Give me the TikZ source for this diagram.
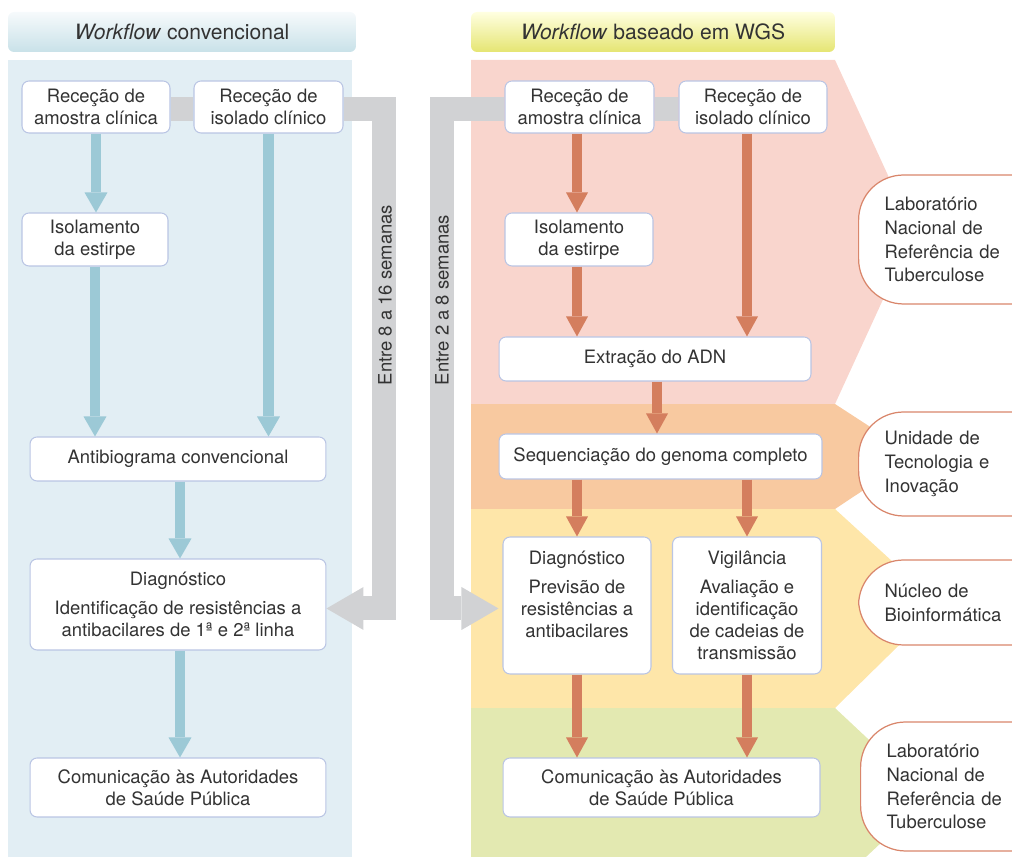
\documentclass[tikz,border=0pt]{standalone}
\usepackage{fontspec}
\setmainfont{TeX Gyre Heros}
\usetikzlibrary{arrows.meta,positioning,calc}
\definecolor{painelazul}{HTML}{E2EEF4}
\definecolor{rosa}{HTML}{F9D5CD}
\definecolor{laranja}{HTML}{F8C9A0}
\definecolor{amarelo}{HTML}{FEE6A9}
\definecolor{verde}{HTML}{E3E9B1}
\definecolor{cinza}{HTML}{D1D2D4}
\definecolor{azulseta}{HTML}{9CC9D6}
\definecolor{vermseta}{HTML}{D47E5E}
\definecolor{bordacaixa}{HTML}{BAC5E4}
\definecolor{bordaoval}{HTML}{D9866B}
\definecolor{texto}{HTML}{333333}
\pgfdeclarelayer{bg}
\pgfsetlayers{bg,main}
\tikzset{caixa/.style={draw=bordacaixa, fill=white, rounded corners=0.14cm, line width=0.6pt, align=center, inner sep=0pt, font=\fontsize{10.5}{12.5}\selectfont, text=texto},
  oval/.style={draw=bordaoval, fill=white, rounded corners=0.9cm, line width=0.7pt, align=left, anchor=west, minimum width=4cm, text width=2.96cm, inner xsep=0.52cm, font=\fontsize{10.5}{13.6}\selectfont, text=texto},
  cabec/.style={rounded corners=0.12cm, minimum height=0.8cm, inner sep=0pt, font=\fontsize{12}{14}\selectfont, text=texto},
  setaazul/.style={draw=azulseta, line width=0.22cm, -{Triangle[width=0.46cm,length=0.4cm,line width=0pt]}},
  setaverm/.style={draw=vermseta, line width=0.21cm, -{Triangle[width=0.44cm,length=0.4cm,line width=0pt]}},
  barra/.style={draw=cinza, line width=0.48cm},
  setacinza/.style={barra, -{Triangle[width=0.86cm,length=0.74cm,line width=0pt]}},
  semanas/.style={rotate=90, font=\fontsize{10.5}{12.5}\selectfont, text=texto}}

\begin{document}
\begin{tikzpicture}[x=0.02cm, y=-0.02cm]
    \path[use as bounding box] (0,0) rectangle (1012,857);

    \begin{pgfonlayer}{bg} % background layer
    \fill[painelazul] (8,60) rectangle (352,857);
    \fill[verde] (471,708) -- (835,708) -- (930,797) -- (835,886) -- (471,886) -- cycle;
    \fill[amarelo] (471,509) -- (835,509) -- (940,605) -- (835,708) -- (471,708) -- cycle;
    \fill[laranja] (471,404) -- (835,404) -- (915,456) -- (835,509) -- (471,509) -- cycle;
    \fill[rosa] (471,60) -- (835,60) -- (914,232) -- (835,404) -- (471,404) -- cycle;
    \end{pgfonlayer}

    \node [cabec, minimum width=6.96cm, top color=white!70!painelazul, bottom color=azulseta!55!white] (cabconv) at (182,32) {\textit{Workflow} convencional};
    \node [cabec, minimum width=7.28cm, top color=yellow!12!white, bottom color=yellow!55!olive!45!white] (cabwgs) at (653,32) {\textit{Workflow} baseado em WGS};

    % workflow convencional
    \node [caixa, minimum width=2.96cm, minimum height=1.04cm] (l1) at (96,107) {Receção de\\amostra clínica};
    \node [caixa, minimum width=2.98cm, minimum height=1.04cm] (l2) at (268.5,107) {Receção de\\isolado clínico};
    \node [caixa, minimum width=2.92cm, minimum height=1.06cm] (l3) at (95,239.5) {Isolamento\\da estirpe};
    \node [caixa, minimum width=5.92cm, minimum height=0.88cm] (l4) at (178,459) {Antibiograma convencional};
    \node [caixa, minimum width=5.92cm, minimum height=1.82cm] (l5) at (178,604.5) {Diagnóstico\\[4pt]Identificação de resistências a\\antibacilares de 1ª e 2ª linha};
    \node [caixa, minimum width=5.92cm, minimum height=1.18cm] (l6) at (178,787.5) {Comunicação às Autoridades\\de Saúde Pública};

    % workflow WGS
    \node [caixa, minimum width=2.98cm, minimum height=1.04cm] (r1) at (579.5,107) {Receção de\\amostra clínica};
    \node [caixa, minimum width=2.96cm, minimum height=1.04cm] (r2) at (753,107) {Receção de\\isolado clínico};
    \node [caixa, minimum width=2.96cm, minimum height=1.06cm] (r3) at (579,239.5) {Isolamento\\da estirpe};
    \node [caixa, minimum width=6.24cm, minimum height=0.88cm] (r4) at (655,359) {Extração do ADN};
    \node [caixa, minimum width=6.46cm, minimum height=0.9cm] (r5) at (660.5,456.5) {Sequenciação do genoma completo};
    \node [caixa, minimum width=2.96cm, minimum height=2.74cm] (r6) at (577,605.5) {Diagnóstico\\[4pt]Previsão de\\resistências a\\antibacilares\\\phantom{x}};
    \node [caixa, minimum width=2.98cm, minimum height=2.74cm] (r7) at (747,605.5) {Vigilância\\[4pt]Avaliação e\\identificação\\de cadeias de\\transmissão};
    \node [caixa, minimum width=6.34cm, minimum height=1.18cm] (r8) at (661.5,787.5) {Comunicação às Autoridades\\de Saúde Pública};

    % unidades
    \node [oval, minimum height=2.58cm] (lab1) at (858,239.5) {Laboratório\\Nacional de\\Referência de\\Tuberculose};
    \node [oval, minimum height=2.08cm] (uti) at (858,464) {Unidade de\\Tecnologia e\\Inovação};
    \node [oval, minimum height=1.7cm] (nucleo) at (858,602.5) {Núcleo de\\Bioinformática};
    \node [oval, minimum height=2.58cm] (lab2) at (860,786.5) {Laboratório\\Nacional de\\Referência de\\Tuberculose};

    % tempos
    \coordinate (g1) at (384,109);
    \coordinate (g2) at (384,608.5);
    \coordinate (g3) at (442,109);
    \coordinate (g4) at (442,608.5);
    \begin{pgfonlayer}{bg}
    \draw[barra] (l1.east |- g1) -- (l2.west |- g1);
    \draw[setacinza] (l2.east |- g1) -- (g1) -- (g2) -- (l5.east |- g2);
    \draw[barra] (r1.east |- g3) -- (r2.west |- g3);
    \draw[setacinza, shorten >=0.08cm] (r1.west |- g3) -- (g3) -- (g4) -- (r6.west |- g4);
    \end{pgfonlayer}
    \node [semanas] (t816) at (385,295) {Entre 8 a 16 semanas};
    \node [semanas] (t28) at (442,300) {Entre 2 a 8 semanas};

    \draw[setaazul] (l1.south) -- (l1.south |- l3.north);
    \draw[setaazul] (l3.south) -- (l3.south |- l4.north);
    \draw[setaazul] (l2.south) -- (l2.south |- l4.north);
    \draw[setaazul] ([xshift=0.04cm]l4.south) -- ([xshift=0.04cm]l5.north);
    \draw[setaazul] ([xshift=0.04cm]l5.south) -- ([xshift=0.04cm]l6.north);

    \draw[setaverm] (r6 |- r1.south) -- (r6 |- r3.north);
    \draw[setaverm] (r6 |- r3.south) -- (r6 |- r4.north);
    \draw[setaverm] (r7 |- r2.south) -- (r7 |- r4.north);
    \draw[setaverm] ([xshift=0.04cm]r4.south) -- ([xshift=0.04cm]r4.south |- r5.north);
    \draw[setaverm] (r6 |- r5.south) -- (r6.north);
    \draw[setaverm] (r7 |- r5.south) -- (r7.north);
    \draw[setaverm] (r6.south) -- (r6.south |- r8.north);
    \draw[setaverm] (r7.south) -- (r7.south |- r8.north);
\end{tikzpicture}
\end{document}
